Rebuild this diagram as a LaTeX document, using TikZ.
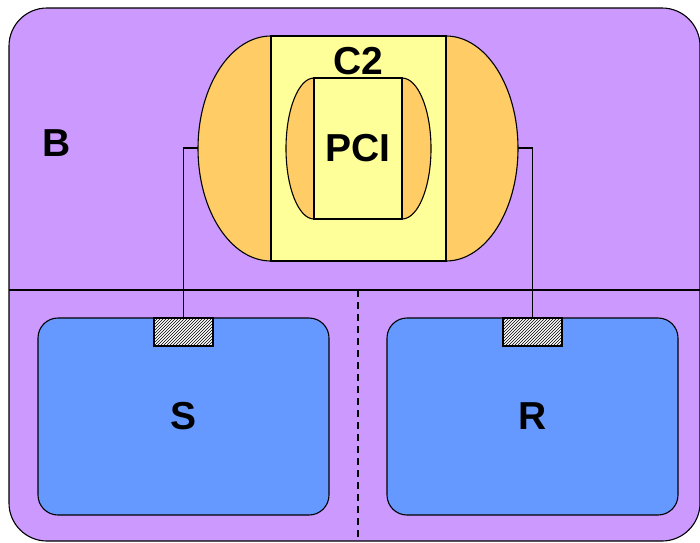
\documentclass[tikz,border=0pt]{standalone}
\usepackage{fontspec}
\setmainfont{Liberation Sans}
\definecolor{bgpurple}{RGB}{204,153,255}
\definecolor{capsorange}{RGB}{255,204,102}
\definecolor{c2yellow}{RGB}{255,255,153}
\definecolor{unitblue}{RGB}{102,153,255}
\usetikzlibrary{patterns}

\begin{document}
\begin{tikzpicture}[x=1pt, y=-1pt, line width=1.1pt,
    bigfont/.style={font=\fontsize{39}{42}\selectfont\bfseries},
    unitbox/.style={draw, fill=unitblue, rounded corners=20pt, minimum width=291pt, minimum height=197pt, bigfont},
    port/.style={draw, preaction={fill=white}, pattern=north east lines, minimum width=59pt, minimum height=28pt, inner sep=0pt}]
  \useasboundingbox (0,0) rectangle (700,542);
  % Board
  \filldraw[fill=bgpurple, rounded corners=38pt] (9,8) rectangle (700,541);
  \draw (9,290) -- (700,290);
  \draw[dash pattern=on 7pt off 5pt] (358,290) -- (358,541);
  \node[bigfont] (blabel) at (57,143) {B};
  % C2 capsule
  \filldraw[fill=capsorange] (271,36) arc[start angle=90, end angle=270, x radius=73pt, y radius=112.5pt]
    -- (446,261) arc[start angle=-90, end angle=90, x radius=72pt, y radius=112.5pt] -- cycle;
  \node[draw, fill=c2yellow, minimum width=175pt, minimum height=225pt] (c2) at (358.5,148.5) {};
  \node[bigfont] (c2label) at (358.5,61) {C2};
  \coordinate (c2w) at (198,148);
  \coordinate (c2e) at (518,148);
  % PCI capsule
  \filldraw[fill=capsorange] (314,78) arc[start angle=90, end angle=270, x radius=28pt, y radius=70.5pt]
    -- (402,219) arc[start angle=-90, end angle=90, x radius=29pt, y radius=70.5pt] -- cycle;
  \node[draw, fill=c2yellow, minimum width=88pt, minimum height=141pt, bigfont] (pci) at (358,148.5) {PCI};
  % Units
  \node[unitbox] (send) at (183.5,416.5) {S};
  \node[unitbox] (recv) at (532.5,416.5) {R};
  \node[port] (portS) at (183.5,332) {};
  \node[port] (portR) at (532.5,332) {};
  % Links
  \draw (portS.north) |- (c2w);
  \draw (portR.north) |- (c2e);
\end{tikzpicture}
\end{document}
